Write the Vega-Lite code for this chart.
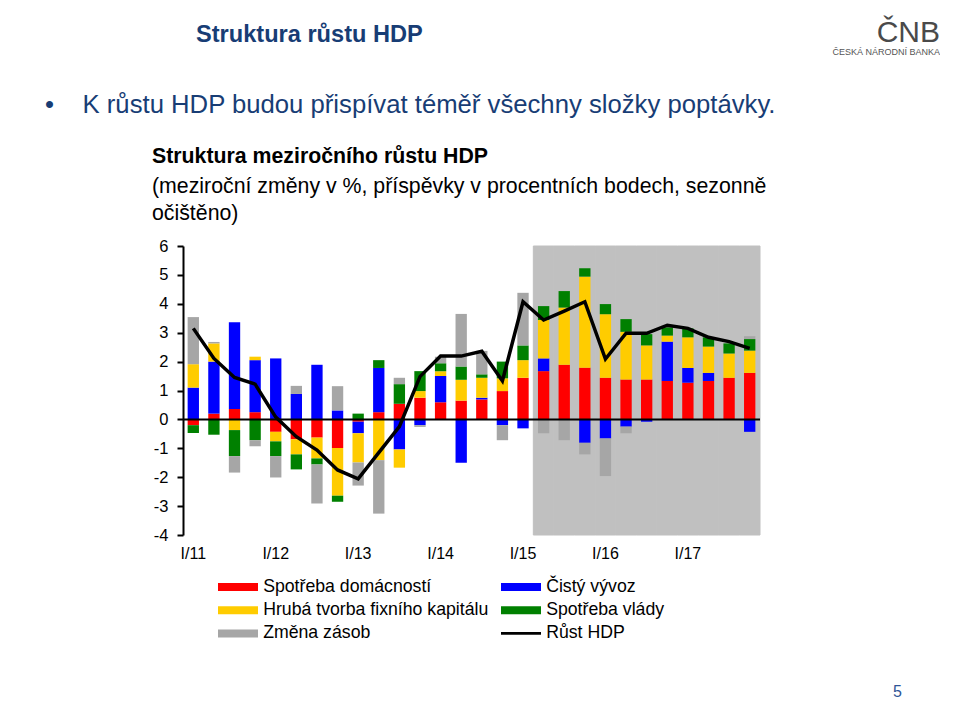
{
  "$schema": "https://vega.github.io/schema/vega-lite/v6.json",
  "background": "white",
  "padding": {"left": 45, "top": 18, "right": 0, "bottom": 0},
  "config": {
    "font": "Liberation Sans",
    "view": {"stroke": null},
    "concat": {"spacing": 0},
    "axisY": {"domainColor": "black", "domainWidth": 2, "tickColor": "black", "tickWidth": 2, "tickSize": 6, "labelFontSize": 16.5, "labelColor": "black", "labelPadding": 9, "grid": false, "labelFont": "Liberation Sans"},
    "axisX": {"domain": false, "ticks": false, "labelFontSize": 16, "labelColor": "black", "labelPadding": 10, "labelAngle": 0, "grid": false, "labelFont": "Liberation Sans", "labelOverlap": false}
  },
  "title": {"text": "5", "orient": "bottom", "anchor": "end", "frame": "group", "dx": 142, "offset": 41, "fontSize": 16, "fontWeight": "normal", "color": "#2F5597", "font": "Liberation Sans"},
  "resolve": {"scale": {"color": "independent"}, "legend": {"color": "independent"}},
  "vconcat": [
    {
      "title": {"text": "ČNB", "subtitle": "ČESKÁ NÁRODNÍ BANKA", "orient": "top", "anchor": "end", "frame": "group", "dx": 757, "offset": -34, "fontSize": 30, "fontWeight": "normal", "color": "#4A4A4A", "font": "Liberation Sans", "subtitleFontSize": 9, "subtitleColor": "#555555", "subtitleFont": "Liberation Sans", "subtitlePadding": 0},
      "resolve": {"scale": {"color": "independent"}, "legend": {"color": "independent"}},
      "vconcat": [
        {
          "title": {"text": "Struktura růstu HDP", "anchor": "start", "frame": "group", "dx": 13, "dy": 3, "offset": 48, "fontSize": 23.6, "fontWeight": "bold", "color": "#183D75", "font": "Liberation Sans"},
          "resolve": {"scale": {"color": "independent"}, "legend": {"color": "independent"}},
          "vconcat": [
            {
              "title": {"text": "•\u00a0\u00a0\u00a0\u00a0K růstu HDP budou přispívat téměř všechny složky poptávky.", "anchor": "start", "frame": "group", "dx": -138, "offset": 28, "fontSize": 25.7, "fontWeight": "normal", "color": "#183D75", "font": "Liberation Sans"},
              "resolve": {"scale": {"color": "independent"}, "legend": {"color": "independent"}},
              "vconcat": [
                {
                  "width": 577,
                  "height": 289,
                  "title": {
                    "text": "Struktura meziročního růstu HDP",
                    "subtitle": ["(meziroční změny v %, příspěvky v procentních bodech, sezonně", "očištěno)"],
                    "anchor": "start", "frame": "group", "dx": -31, "offset": 14,
                    "fontSize": 21.3, "fontWeight": "bold", "color": "black", "font": "Liberation Sans",
                    "subtitleFontSize": 21.3, "subtitleColor": "black", "subtitleFont": "Liberation Sans", "subtitleLineHeight": 27, "subtitlePadding": 8
                  },
                  "data": {"values": [
                    {"q": "I/11", "obdobi": "skutečnost", "Spotřeba domácností": -0.20, "Čistý vývoz": 1.10, "Hrubá tvorba fixního kapitálu": 0.81, "Spotřeba vlády": -0.27, "Změna zásob": 1.63, "Růst HDP": 3.15},
                    {"q": "II/11", "obdobi": "skutečnost", "Spotřeba domácností": 0.20, "Čistý vývoz": 1.80, "Hrubá tvorba fixního kapitálu": 0.63, "Spotřeba vlády": -0.53, "Změna zásob": 0.05, "Růst HDP": 2.11},
                    {"q": "III/11", "obdobi": "skutečnost", "Spotřeba domácností": 0.36, "Čistý vývoz": 3.00, "Hrubá tvorba fixního kapitálu": -0.37, "Spotřeba vlády": -0.90, "Změna zásob": -0.57, "Růst HDP": 1.45},
                    {"q": "IV/11", "obdobi": "skutečnost", "Spotřeba domácností": 0.25, "Čistý vývoz": 1.80, "Hrubá tvorba fixního kapitálu": 0.12, "Spotřeba vlády": -0.72, "Změna zásob": -0.21, "Růst HDP": 1.22},
                    {"q": "I/12", "obdobi": "skutečnost", "Spotřeba domácností": -0.43, "Čistý vývoz": 2.11, "Hrubá tvorba fixního kapitálu": -0.33, "Spotřeba vlády": -0.51, "Změna zásob": -0.74, "Růst HDP": 0.08},
                    {"q": "II/12", "obdobi": "skutečnost", "Spotřeba domácností": -0.69, "Čistý vývoz": 0.88, "Hrubá tvorba fixního kapitálu": -0.52, "Spotřeba vlády": -0.52, "Změna zásob": 0.28, "Růst HDP": -0.60},
                    {"q": "III/12", "obdobi": "skutečnost", "Spotřeba domácností": -0.63, "Čistý vývoz": 1.89, "Hrubá tvorba fixního kapitálu": -0.72, "Spotřeba vlády": -0.21, "Změna zásob": -1.35, "Růst HDP": -1.06},
                    {"q": "IV/12", "obdobi": "skutečnost", "Spotřeba domácností": -0.99, "Čistý vývoz": 0.31, "Hrubá tvorba fixního kapitálu": -1.65, "Spotřeba vlády": -0.21, "Změna zásob": 0.84, "Růst HDP": -1.75},
                    {"q": "I/13", "obdobi": "skutečnost", "Spotřeba domácností": -0.08, "Čistý vývoz": -0.40, "Hrubá tvorba fixního kapitálu": -1.01, "Spotřeba vlády": 0.20, "Změna zásob": -0.80, "Růst HDP": -2.06},
                    {"q": "II/13", "obdobi": "skutečnost", "Spotřeba domácností": 0.25, "Čistý vývoz": 1.53, "Hrubá tvorba fixního kapitálu": -1.41, "Spotřeba vlády": 0.27, "Změna zásob": -1.85, "Růst HDP": -1.15},
                    {"q": "III/13", "obdobi": "skutečnost", "Spotřeba domácností": 0.54, "Čistý vývoz": -1.04, "Hrubá tvorba fixního kapitálu": -0.63, "Spotřeba vlády": 0.68, "Změna zásob": 0.22, "Růst HDP": -0.25},
                    {"q": "IV/13", "obdobi": "skutečnost", "Spotřeba domácností": 0.75, "Čistý vývoz": -0.20, "Hrubá tvorba fixního kapitálu": 0.23, "Spotřeba vlády": 0.69, "Změna zásob": -0.06, "Růst HDP": 1.48},
                    {"q": "I/14", "obdobi": "skutečnost", "Spotřeba domácností": 0.59, "Čistý vývoz": 0.91, "Hrubá tvorba fixního kapitálu": 0.17, "Spotřeba vlády": 0.27, "Změna zásob": 0.23, "Růst HDP": 2.19},
                    {"q": "II/14", "obdobi": "skutečnost", "Spotřeba domácností": 0.65, "Čistý vývoz": -1.50, "Hrubá tvorba fixního kapitálu": 0.72, "Spotřeba vlády": 0.46, "Změna zásob": 1.82, "Růst HDP": 2.19},
                    {"q": "III/14", "obdobi": "skutečnost", "Spotřeba domácností": 0.69, "Čistý vývoz": 0.06, "Hrubá tvorba fixního kapitálu": 0.69, "Spotřeba vlády": 0.12, "Změna zásob": 0.81, "Růst HDP": 2.36},
                    {"q": "IV/14", "obdobi": "skutečnost", "Spotřeba domácností": 0.98, "Čistý vývoz": -0.20, "Hrubá tvorba fixního kapitálu": 0.44, "Spotřeba vlády": 0.58, "Změna zásob": -0.52, "Růst HDP": 1.33},
                    {"q": "I/15", "obdobi": "skutečnost", "Spotřeba domácností": 1.44, "Čistý vývoz": -0.31, "Hrubá tvorba fixního kapitálu": 0.61, "Spotřeba vlády": 0.51, "Změna zásob": 1.82, "Růst HDP": 4.07},
                    {"q": "II/15", "obdobi": "prognóza", "Spotřeba domácností": 1.67, "Čistý vývoz": 0.44, "Hrubá tvorba fixního kapitálu": 1.33, "Spotřeba vlády": 0.48, "Změna zásob": -0.48, "Růst HDP": 3.44},
                    {"q": "III/15", "obdobi": "prognóza", "Spotřeba domácností": 1.89, "Čistý vývoz": 0.00, "Hrubá tvorba fixního kapitálu": 1.98, "Spotřeba vlády": 0.57, "Změna zásob": -0.72, "Růst HDP": 3.75},
                    {"q": "IV/15", "obdobi": "prognóza", "Spotřeba domácností": 1.79, "Čistý vývoz": -0.81, "Hrubá tvorba fixního kapitálu": 3.15, "Spotřeba vlády": 0.29, "Změna zásob": -0.40, "Růst HDP": 4.07},
                    {"q": "I/16", "obdobi": "prognóza", "Spotřeba domácností": 1.44, "Čistý vývoz": -0.66, "Hrubá tvorba fixního kapitálu": 2.20, "Spotřeba vlády": 0.35, "Změna zásob": -1.30, "Růst HDP": 2.09},
                    {"q": "II/16", "obdobi": "prognóza", "Spotřeba domácností": 1.38, "Čistý vývoz": -0.25, "Hrubá tvorba fixního kapitálu": 1.65, "Spotřeba vlády": 0.44, "Změna zásob": -0.23, "Růst HDP": 2.98},
                    {"q": "III/16", "obdobi": "prognóza", "Spotřeba domácností": 1.38, "Čistý vývoz": -0.08, "Hrubá tvorba fixního kapitálu": 1.18, "Spotřeba vlády": 0.39, "Změna zásob": 0.00, "Růst HDP": 2.98},
                    {"q": "IV/16", "obdobi": "prognóza", "Spotřeba domácností": 1.33, "Čistý vývoz": 1.36, "Hrubá tvorba fixního kapitálu": 0.21, "Spotřeba vlády": 0.29, "Změna zásob": 0.05, "Růst HDP": 3.26},
                    {"q": "I/17", "obdobi": "prognóza", "Spotřeba domácností": 1.27, "Čistý vývoz": 0.51, "Hrubá tvorba fixního kapitálu": 1.06, "Spotřeba vlády": 0.31, "Změna zásob": 0.00, "Růst HDP": 3.15},
                    {"q": "II/17", "obdobi": "prognóza", "Spotřeba domácností": 1.33, "Čistý vývoz": 0.28, "Hrubá tvorba fixního kapitálu": 0.91, "Spotřeba vlády": 0.32, "Změna zásob": 0.00, "Růst HDP": 2.84},
                    {"q": "III/17", "obdobi": "prognóza", "Spotřeba domácností": 1.44, "Čistý vývoz": 0.00, "Hrubá tvorba fixního kapitálu": 0.84, "Spotřeba vlády": 0.35, "Změna zásob": 0.00, "Růst HDP": 2.69},
                    {"q": "IV/17", "obdobi": "prognóza", "Spotřeba domácností": 1.61, "Čistý vývoz": -0.43, "Hrubá tvorba fixního kapitálu": 0.77, "Spotřeba vlády": 0.40, "Změna zásob": 0.10, "Růst HDP": 2.46}
                  ]},
                  "layer": [
                    {
                      "transform": [{"filter": "datum.obdobi === 'prognóza'"}],
                      "mark": {"type": "bar", "color": "#C0C0C0", "stroke": "#C0C0C0", "strokeWidth": 1, "width": {"band": 1}},
                      "encoding": {
                        "x": {"field": "q", "type": "ordinal", "title": null,
                          "scale": {"domain": ["I/11","II/11","III/11","IV/11","I/12","II/12","III/12","IV/12","I/13","II/13","III/13","IV/13","I/14","II/14","III/14","IV/14","I/15","II/15","III/15","IV/15","I/16","II/16","III/16","IV/16","I/17","II/17","III/17","IV/17"], "paddingInner": 0, "paddingOuter": 0},
                          "axis": {"labelExpr": "indexof(datum.label, 'I/') === 0 ? datum.label : ''"}},
                        "y": {"datum": 6, "type": "quantitative", "scale": {"domain": [-4, 6], "nice": false}, "axis": {"title": null, "values": [-4,-3,-2,-1,0,1,2,3,4,5,6], "labelExpr": "'' + datum.value"}},
                        "y2": {"datum": -4}
                      }
                    },
                    {
                      "transform": [
                        {"fold": ["Spotřeba domácností", "Čistý vývoz", "Hrubá tvorba fixního kapitálu", "Spotřeba vlády", "Změna zásob"], "as": ["složka", "hodnota"]},
                        {"lookup": "složka", "from": {"data": {"values": [
                          {"složka": "Spotřeba domácností", "poradi": 1},
                          {"složka": "Čistý vývoz", "poradi": 2},
                          {"složka": "Hrubá tvorba fixního kapitálu", "poradi": 3},
                          {"složka": "Spotřeba vlády", "poradi": 4},
                          {"složka": "Změna zásob", "poradi": 5}
                        ]}, "key": "složka", "fields": ["poradi"]}}
                      ],
                      "mark": {"type": "bar", "width": {"band": 0.55}},
                      "encoding": {
                        "x": {"field": "q", "type": "ordinal", "title": null},
                        "y": {"field": "hodnota", "type": "quantitative", "stack": "zero", "title": null, "axis": {"title": null, "values": [-4,-3,-2,-1,0,1,2,3,4,5,6], "labelExpr": "'' + datum.value"}},
                        "order": {"field": "poradi", "type": "quantitative", "sort": "ascending"},
                        "color": {
                          "field": "složka", "type": "nominal",
                          "scale": {"domain": ["Spotřeba domácností", "Hrubá tvorba fixního kapitálu", "Změna zásob", "Čistý vývoz", "Spotřeba vlády", "Růst HDP"], "range": ["#FF0000", "#FFCC00", "#A6A6A6", "#0000FF", "#008000", "#000000"]},
                          "legend": {
                            "title": null, "orient": "none", "legendX": 35, "legendY": 332, "columns": 2,
                            "symbolType": "M-5,-1H5V1H-5Z", "symbolSize": 64, "symbolStrokeWidth": 0,
                            "symbolOffset": 11.15, "labelOffset": 16.3, "labelFontSize": 17.7, "labelColor": "black", "labelFont": "Liberation Sans", "labelLimit": 400,
                            "rowPadding": 4.3, "columnPadding": 12,
                            "encode": {"symbols": {"update": {"shape": {"signal": "datum.value === 'Růst HDP' ? 'M-5,-0.35H5V0.35H-5Z' : 'M-5,-1H5V1H-5Z'"}}}}
                          }
                        }
                      }
                    },
                    {
                      "data": {"values": [{"nula": 0}]},
                      "mark": {"type": "rule", "color": "black", "strokeWidth": 2},
                      "encoding": {"y": {"field": "nula", "type": "quantitative", "title": null, "axis": {"title": null, "values": [-4,-3,-2,-1,0,1,2,3,4,5,6], "labelExpr": "'' + datum.value"}}}
                    },
                    {
                      "mark": {"type": "line", "color": "black", "strokeWidth": 3.5},
                      "encoding": {
                        "x": {"field": "q", "type": "ordinal", "title": null},
                        "y": {"field": "Růst HDP", "type": "quantitative", "title": null, "axis": {"title": null, "values": [-4,-3,-2,-1,0,1,2,3,4,5,6], "labelExpr": "'' + datum.value"}}
                      }
                    }
                  ]
                }
              ]
            }
          ]
        }
      ]
    }
  ]
}
